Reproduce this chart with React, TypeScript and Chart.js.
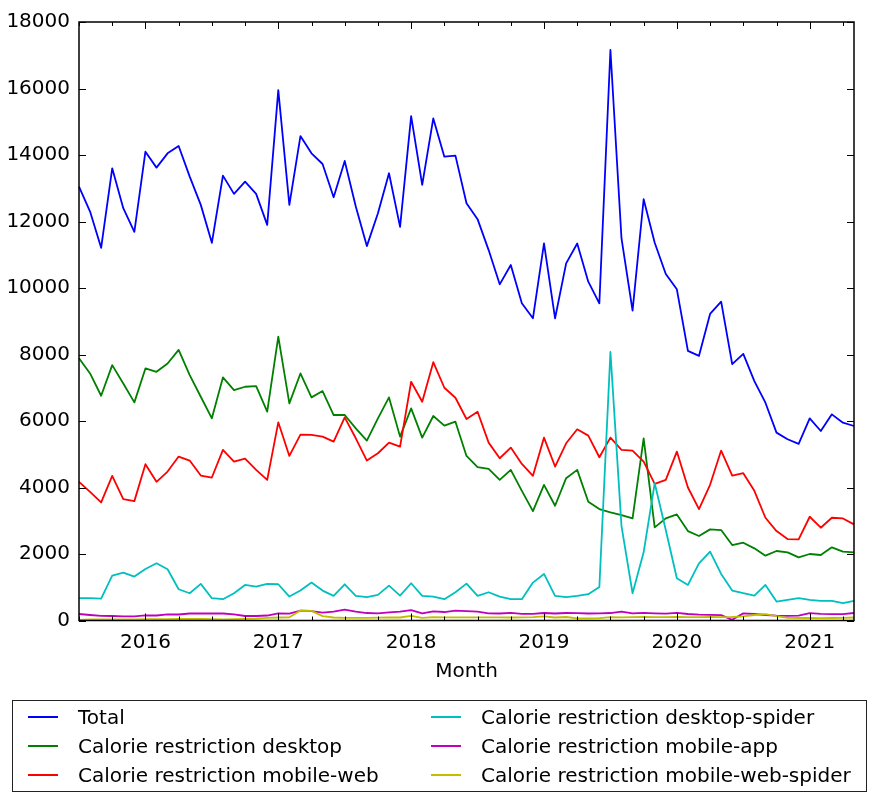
import React, { useEffect, useRef } from "react";
import { Chart, registerables } from "chart.js";

Chart.register(...registerables);

const months = [
  "2015-07", "2015-08", "2015-09", "2015-10", "2015-11", "2015-12",
  "2016-01", "2016-02", "2016-03", "2016-04", "2016-05", "2016-06",
  "2016-07", "2016-08", "2016-09", "2016-10", "2016-11", "2016-12",
  "2017-01", "2017-02", "2017-03", "2017-04", "2017-05", "2017-06",
  "2017-07", "2017-08", "2017-09", "2017-10", "2017-11", "2017-12",
  "2018-01", "2018-02", "2018-03", "2018-04", "2018-05", "2018-06",
  "2018-07", "2018-08", "2018-09", "2018-10", "2018-11", "2018-12",
  "2019-01", "2019-02", "2019-03", "2019-04", "2019-05", "2019-06",
  "2019-07", "2019-08", "2019-09", "2019-10", "2019-11", "2019-12",
  "2020-01", "2020-02", "2020-03", "2020-04", "2020-05", "2020-06",
  "2020-07", "2020-08", "2020-09", "2020-10", "2020-11", "2020-12",
  "2021-01", "2021-02", "2021-03", "2021-04", "2021-05",
];

const total = [
  13050, 12300, 11210, 13600, 12400, 11690,
  14100, 13620, 14050, 14270, 13350, 12500,
  11360, 13380, 12830, 13200, 12830, 11900,
  15950, 12500, 14570, 14050, 13730, 12730,
  13820, 12450, 11260, 12250, 13450, 11840,
  15170, 13100, 15100, 13950, 13980, 12550,
  12070, 11140, 10110, 10690, 9540, 9090,
  11340, 9090, 10740, 11340, 10190, 9540,
  17160, 11490, 9320, 12670, 11360, 10420,
  9960, 8110, 7960, 9220, 9590, 7710,
  8020, 7200, 6550, 5650, 5450, 5310,
  6080, 5700, 6200, 5950, 5850,
];

const desktop = [
  7890, 7430, 6760, 7680, 7130, 6560,
  7580, 7480, 7730, 8140, 7380, 6730,
  6080, 7310, 6930, 7030, 7050, 6280,
  8540, 6530, 7430, 6710, 6900, 6180,
  6180, 5780, 5410, 6080, 6710, 5530,
  6380, 5500, 6150, 5860, 5980, 4950,
  4610, 4560, 4230, 4530, 3900, 3290,
  4080, 3450, 4280, 4530, 3570, 3350,
  3250, 3170, 3070, 5480, 2800, 3070,
  3190, 2690, 2540, 2740, 2720, 2270,
  2340, 2170, 1950, 2090, 2050, 1900,
  2000, 1970, 2200, 2070, 2050,
];

const mobileWeb = [
  4170, 3870, 3550, 4350, 3650, 3590,
  4700, 4170, 4480, 4930, 4810, 4360,
  4300, 5130, 4780, 4870, 4530, 4230,
  5960, 4950, 5590, 5580, 5530, 5380,
  6110, 5480, 4810, 5030, 5350, 5230,
  7180, 6580, 7770, 7000, 6700, 6060,
  6280, 5350, 4880, 5200, 4710, 4350,
  5500, 4630, 5330, 5750, 5560, 4910,
  5500, 5130, 5110, 4780, 4110, 4230,
  5080, 4000, 3350, 4080, 5110, 4360,
  4430, 3900, 3090, 2690, 2450, 2440,
  3120, 2790, 3090, 3070, 2890,
];

const desktopSpider = [
  670, 670, 660, 1350, 1440, 1320,
  1550, 1720, 1540, 940, 820, 1100,
  670, 640, 820, 1070, 1020, 1100,
  1090, 720, 900, 1140, 900, 740,
  1090, 740, 700, 770, 1050, 750,
  1120, 740, 720, 640, 850, 1110,
  740, 850, 720, 640, 640, 1140,
  1400, 740, 700, 740, 790, 1010,
  8080, 2840, 820, 2050, 4130, 2720,
  1270, 1070, 1720, 2070, 1400, 900,
  820, 750, 1070, 570, 620, 670,
  620, 590, 590, 520, 590,
];

const mobileApp = [
  195, 165, 140, 135, 125, 125,
  155, 150, 185, 180, 210, 210,
  210, 210, 185, 135, 135, 150,
  215, 205, 300, 285, 235, 265,
  325, 265, 225, 215, 245, 265,
  315, 215, 275, 255, 295, 280,
  265, 215, 210, 230, 200, 200,
  225, 210, 225, 220, 210, 215,
  225, 270, 215, 230, 215, 205,
  230, 195, 175, 170, 160, 20,
  215, 195, 165, 145, 140, 145,
  220, 200, 190, 190, 225,
];

const mobileWebSpider = [
  15, 30, 35, 35, 35, 35,
  40, 40, 40, 45, 45, 45,
  40, 35, 40, 50, 55, 80,
  90, 95, 300, 290, 130, 90,
  80, 80, 80, 85, 90, 90,
  140, 80, 100, 95, 95, 95,
  95, 95, 95, 90, 95, 100,
  125, 90, 105, 65, 65, 70,
  100, 95, 100, 105, 100, 100,
  105, 100, 100, 105, 100, 105,
  125, 165, 190, 130, 80, 75,
  75, 70, 75, 80, 90,
];

const seriesNames = [
  "Total",
  "Calorie restriction desktop",
  "Calorie restriction mobile-web",
  "Calorie restriction desktop-spider",
  "Calorie restriction mobile-app",
  "Calorie restriction mobile-web-spider",
];
const seriesData = [total, desktop, mobileWeb, desktopSpider, mobileApp, mobileWebSpider];
const seriesColors = ["#0000ff", "#008000", "#ff0000", "#00bfbf", "#bf00bf", "#bfbf00"];

const yMin = 0;
const yMax = 18000;
const yStep = 2000;
const xTitle = "Month";

const FONT = "'DejaVu Sans', sans-serif";

const mplTicks = {
  id: "mplTicks",
  afterDraw(chart: any) {
    const { ctx, chartArea: a, scales } = chart;
    const x = scales.x;
    const y = scales.y;
    ctx.save();
    ctx.strokeStyle = "#000";
    ctx.lineWidth = 1;
    const seg = (x1: number, y1: number, x2: number, y2: number) => {
      ctx.beginPath();
      ctx.moveTo(x1, y1);
      ctx.lineTo(x2, y2);
      ctx.stroke();
    };
    for (let i = 0; i < months.length; i++) {
      const m = parseInt(months[i].slice(5), 10);
      if ((m - 1) % 3 !== 0) continue;
      const len = m === 1 ? 7 : 4;
      const px = Math.round(x.getPixelForValue(i)) + 0.5;
      seg(px, a.bottom, px, a.bottom - len);
      seg(px, a.top, px, a.top + len);
    }
    for (let v = yMin; v <= yMax; v += yStep) {
      const py = Math.round(y.getPixelForValue(v)) + 0.5;
      seg(a.left, py, a.left + 7, py);
      seg(a.right, py, a.right - 7, py);
    }
    ctx.lineWidth = 1.5;
    ctx.strokeRect(a.left, a.top, a.right - a.left, a.bottom - a.top);
    ctx.restore();
  },
};

export default function App() {
  const ref = useRef<HTMLCanvasElement | null>(null);

  useEffect(() => {
    document.body.style.margin = "0";
    const canvas = ref.current;
    if (!canvas) return;
    const chart = new Chart(canvas, {
      type: "line",
      data: {
        labels: months,
        datasets: seriesData.map((d, i) => ({
          label: seriesNames[i],
          data: d,
          borderColor: seriesColors[i],
          backgroundColor: seriesColors[i],
          borderWidth: 1.8,
          pointRadius: 0,
          tension: 0,
          fill: false,
          borderJoinStyle: "round" as const,
          order: seriesData.length - i,
        })),
      },
      options: {
        animation: false,
        responsive: false,
        devicePixelRatio: 1,
        layout: { padding: { left: 0, top: 22, right: 26, bottom: 115.6 } },
        plugins: {
          legend: { display: false },
          tooltip: { enabled: false },
        },
        scales: {
          x: {
            type: "category",
            offset: false,
            grid: { display: false, drawTicks: false },
            border: { display: false },
            ticks: {
              autoSkip: false,
              maxRotation: 0,
              minRotation: 0,
              padding: 10,
              color: "#000",
              font: { family: FONT, size: 20 },
              callback: (_v: any, i: number) =>
                months[i].endsWith("-01") ? months[i].slice(0, 4) : "",
            },
            title: {
              display: true,
              text: xTitle,
              color: "#000",
              font: { family: FONT, size: 20 },
              padding: { top: 0, bottom: 0 },
            },
            afterFit: (s: any) => {
              s.height = 62.9;
            },
          },
          y: {
            min: yMin,
            max: yMax,
            grid: { display: false, drawTicks: false },
            border: { display: false },
            ticks: {
              stepSize: yStep,
              padding: 9,
              color: "#000",
              font: { family: FONT, size: 20 },
              callback: (v: any) => String(v),
            },
            afterFit: (s: any) => {
              s.width = 79;
            },
          },
        },
      },
      plugins: [mplTicks],
    });
    return () => chart.destroy();
  }, []);

  const rowTops = [16, 45, 74];
  return (
    <div style={{ position: "relative", width: 880, height: 799, background: "#fff" }}>
      <canvas ref={ref} width={880} height={799} style={{ display: "block" }} />
      <div
        style={{
          position: "absolute",
          left: 12,
          top: 700,
          width: 855,
          height: 92,
          border: "1.5px solid #222",
          boxSizing: "border-box",
          fontFamily: FONT,
          fontSize: 20,
          color: "#000",
        }}
      >
        {seriesNames.map((name, i) => {
          const col = i < 3 ? 0 : 1;
          const row = i % 3;
          const lineLeft = col === 0 ? 15 : 418;
          const textLeft = col === 0 ? 65 : 468;
          const cy = rowTops[row];
          return (
            <React.Fragment key={name}>
              <div
                style={{
                  position: "absolute",
                  left: lineLeft,
                  top: cy - 1,
                  width: 30,
                  height: 2,
                  background: seriesColors[i],
                }}
              />
              <div
                style={{
                  position: "absolute",
                  left: textLeft,
                  top: cy - 12,
                  lineHeight: "24px",
                  whiteSpace: "nowrap",
                }}
              >
                {name}
              </div>
            </React.Fragment>
          );
        })}
      </div>
    </div>
  );
}
